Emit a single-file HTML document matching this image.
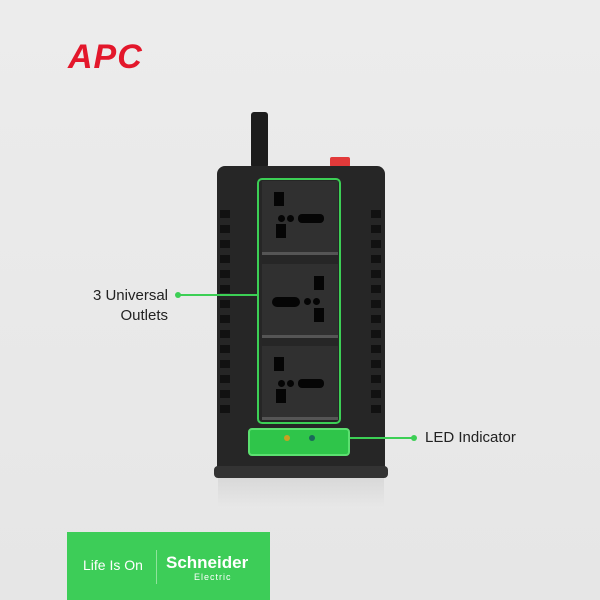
<!DOCTYPE html>
<html><head><style>
body{margin:0;width:600px;height:600px;overflow:hidden;background:linear-gradient(#ececec,#e6e6e6);font-family:"Liberation Sans",sans-serif;position:relative}
.a{position:absolute}
.vent{position:absolute;width:10px;height:8px;background:#111}
.out{position:absolute;left:262px;width:76px;height:74px;background:#303030;border-bottom:3px solid #555;box-sizing:border-box}
.h{position:absolute;background:#050505}
.c{position:absolute;background:#050505;border-radius:50%;width:7px;height:7px}
</style></head><body>
<div class="a" style="left:68px;top:38px;font-size:34px;font-weight:bold;color:#e3172b;letter-spacing:1px;font-style:italic">APC</div>
<div class="a" style="left:251px;top:112px;width:17px;height:56px;background:#1c1c1c;border-radius:3px"></div>
<div class="a" style="left:330px;top:157px;width:20px;height:10px;background:#e23a3a;border-radius:2px"></div>
<div class="a" style="left:217px;top:166px;width:168px;height:310px;background:#262626;border-radius:8px 8px 4px 4px"></div>
<div class="a" style="left:214px;top:466px;width:174px;height:12px;background:#333;border-radius:4px"></div>
<div class="a" style="left:218px;top:478px;width:166px;height:30px;background:linear-gradient(#cfcfcf,#e8e8e8);opacity:.6"></div>
<div id="v"></div>
<div class="a" style="left:257px;top:178px;width:84px;height:246px;border:2px solid #3ccf55;border-radius:5px;box-sizing:border-box"></div>
<div class="out" style="top:181px"></div>
<div class="out" style="top:264px"></div>
<div class="out" style="top:346px"></div>
<div class="h" style="left:274px;top:192px;width:10px;height:14px"></div><div class="h" style="left:276px;top:224px;width:10px;height:14px"></div>
<div class="c" style="left:278px;top:215px"></div><div class="c" style="left:287px;top:215px"></div><div class="h" style="left:298px;top:214px;width:26px;height:9px;border-radius:4px"></div>
<div class="h" style="left:314px;top:276px;width:10px;height:14px"></div><div class="h" style="left:314px;top:308px;width:10px;height:14px"></div>
<div class="h" style="left:272px;top:297px;width:28px;height:10px;border-radius:5px"></div><div class="c" style="left:304px;top:298px"></div><div class="c" style="left:313px;top:298px"></div>
<div class="h" style="left:274px;top:357px;width:10px;height:14px"></div><div class="h" style="left:276px;top:389px;width:10px;height:14px"></div>
<div class="c" style="left:278px;top:380px"></div><div class="c" style="left:287px;top:380px"></div><div class="h" style="left:298px;top:379px;width:26px;height:9px;border-radius:4px"></div>
<div class="a" style="left:248px;top:428px;width:102px;height:28px;background:#2fc54a;border:2px solid #5ce070;border-radius:4px;box-sizing:border-box"></div>
<div class="a" style="left:284px;top:435px;width:6px;height:6px;border-radius:50%;background:#c9a020"></div>
<div class="a" style="left:309px;top:435px;width:6px;height:6px;border-radius:50%;background:#1a6a5a"></div>
<div class="a" style="left:178px;top:294px;width:80px;height:2px;background:#3ccf55"></div>
<div class="a" style="left:175px;top:292px;width:6px;height:6px;border-radius:50%;background:#3ccf55"></div>
<div class="a" style="left:350px;top:437px;width:64px;height:2px;background:#3ccf55"></div>
<div class="a" style="left:411px;top:435px;width:6px;height:6px;border-radius:50%;background:#3ccf55"></div>
<div class="a" style="left:60px;top:286px;width:108px;text-align:right;font-size:15px;color:#222;line-height:20px">3 Universal<br>Outlets</div>
<div class="a" style="left:425px;top:429px;font-size:15px;color:#222">LED Indicator</div>
<div class="a" style="left:67px;top:532px;width:203px;height:68px;background:#3dcd58"></div>
<div class="a" style="left:83px;top:557px;font-size:14px;color:#fff">Life Is On</div>
<div class="a" style="left:156px;top:550px;width:1px;height:34px;background:#8fe39c"></div>
<div class="a" style="left:166px;top:553px;font-size:17px;font-weight:bold;color:#fff">Schneider</div>
<div class="a" style="left:194px;top:572px;font-size:9px;color:#fff;letter-spacing:1px">Electric</div>
<script>
var v=document.getElementById('v'),s='';
for(var i=0;i<14;i++){var y=210+i*15;s+='<div class="vent" style="left:220px;top:'+y+'px"></div><div class="vent" style="left:371px;top:'+y+'px"></div>';}
v.innerHTML=s;
</script>
</body></html>
